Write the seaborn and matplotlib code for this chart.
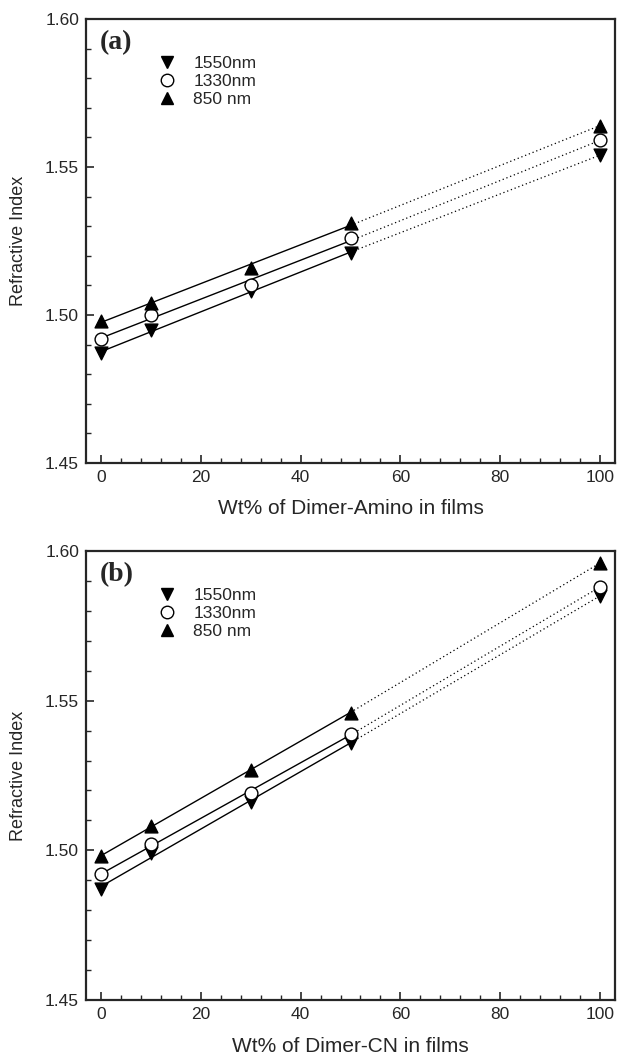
import numpy as np
import pandas as pd
import matplotlib
matplotlib.use('Agg')
import matplotlib.pyplot as plt
from matplotlib.lines import Line2D
from matplotlib.ticker import MultipleLocator, FormatStrFormatter
import seaborn as sns

# --- dados ---
wt = [0, 10, 30, 50, 100]
series = ['1550nm', '1330nm', '850 nm']

amino_1550 = [1.487, 1.495, 1.508, 1.521, 1.554]
amino_1330 = [1.492, 1.500, 1.510, 1.526, 1.559]
amino_850 = [1.498, 1.504, 1.516, 1.531, 1.564]

cn_1550 = [1.487, 1.499, 1.516, 1.536, 1.585]
cn_1330 = [1.492, 1.502, 1.519, 1.539, 1.588]
cn_850 = [1.498, 1.508, 1.527, 1.546, 1.596]

panels = [
    ('(a)', 'Wt% of Dimer-Amino in films', [amino_1550, amino_1330, amino_850]),
    ('(b)', 'Wt% of Dimer-CN in films', [cn_1550, cn_1330, cn_850]),
]

markers = {'1550nm': 'v', '1330nm': 'o', '850 nm': '^'}
faces = {'1550nm': 'black', '1330nm': 'white', '850 nm': 'black'}

sns.set_style('ticks')
plt.rcParams['font.family'] = ['Liberation Sans', 'DejaVu Sans']

fig = plt.figure(figsize=(6.18, 10.55), dpi=100)
W, H = 618, 1055
# caixas dos eixos em pixels (x0, y0, x1, y1)
boxes = [(86, 19, 615, 463), (86, 551, 615, 1000)]

for (tag, xlabel, vals), (x0, y0, x1, y1) in zip(panels, boxes):
    aw, ah = x1 - x0, y1 - y0
    ax = fig.add_axes([x0 / W, 1 - y1 / H, aw / W, ah / H])
    for name, v in zip(series, vals):
        df = pd.DataFrame({'wt': wt, 'n': v})
        # ajuste linear nos pontos 0-50 (linha cheia), extrapolacao pontilhada ate 100
        fit = np.polyfit(df['wt'][:4], df['n'][:4], 1)
        xs = np.array([0, 50])
        sns.lineplot(x=xs, y=np.polyval(fit, xs), ax=ax, color='black', lw=1.0)
        sns.lineplot(x=[50, 100], y=[np.polyval(fit, 50), v[-1]], ax=ax,
                     color='black', lw=0.9, linestyle=(0, (1, 2.2)))
        sns.scatterplot(data=df, x='wt', y='n', ax=ax, marker=markers[name],
                        s=85, color=faces[name], edgecolor='black', linewidth=1.0,
                        zorder=3)

    ax.set_xlim(-3, 103)
    ax.set_ylim(1.45, 1.60)
    ax.xaxis.set_major_locator(MultipleLocator(20))
    ax.xaxis.set_minor_locator(MultipleLocator(4))
    ax.yaxis.set_major_locator(MultipleLocator(0.05))
    ax.yaxis.set_minor_locator(MultipleLocator(0.01))
    ax.yaxis.set_major_formatter(FormatStrFormatter('%.2f'))
    ax.tick_params(which='major', direction='in', length=6, width=1.2, labelsize=12.5, pad=5)
    ax.tick_params(which='minor', direction='in', length=3.5, width=1.0)
    for sp in ax.spines.values():
        sp.set_linewidth(1.6)

    ax.set_xlabel(xlabel, fontsize=15, va='center')
    ax.xaxis.set_label_coords(0.5, -46 / ah)
    ax.set_ylabel('Refractive Index', fontsize=13, va='center')
    ax.yaxis.set_label_coords(-(x0 - 18) / aw, 0.5)

    ax.text(14 / aw, 1 - 24 / ah, tag, transform=ax.transAxes, ha='left', va='center',
            fontsize=20, fontweight='bold', family=['Liberation Serif', 'DejaVu Serif'])

    handles = [Line2D([], [], linestyle='none', marker=markers[n], markersize=9,
                      markerfacecolor=faces[n], markeredgecolor='black') for n in series]
    ax.legend(handles, series, loc='upper left',
              bbox_to_anchor=((157 - x0) / aw, 1 - 37 / ah),
              frameon=False, fontsize=12.5, handletextpad=0.9, labelspacing=0.15,
              handlelength=1.2, borderaxespad=0, borderpad=0)

fig.savefig('out.png', dpi=100)
